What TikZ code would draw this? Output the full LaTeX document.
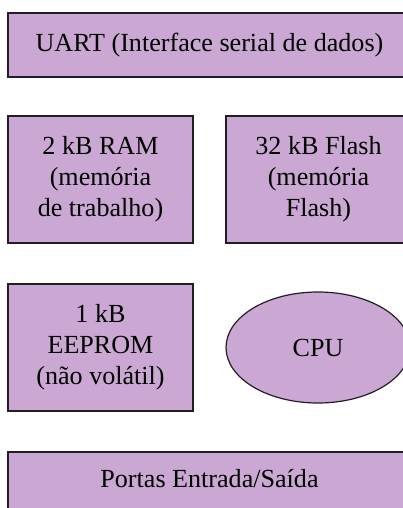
\documentclass[tikz,border=0pt]{standalone}
\usepackage{fontspec}
\setmainfont{Liberation Serif}
\usetikzlibrary{shapes.geometric}

\definecolor{blockfill}{RGB}{202,168,211}
\definecolor{blockline}{RGB}{34,30,36}

\tikzset{
  block/.style={draw=blockline, line width=1.2pt, fill=blockfill,
    rectangle, inner sep=0pt, align=center,
    font=\fontsize{26.1}{30.8}\selectfont},
  wideblock/.style={block, minimum width=403pt},
  memblock/.style={block, minimum width=185pt, minimum height=127pt},
  cpublock/.style={block, ellipse, minimum width=184pt, minimum height=111pt}
}

\begin{document}
\begin{tikzpicture}[x=1pt, y=-1pt]
  \useasboundingbox (0,0) rectangle (403,508);
  \clip (0,0) rectangle (403,508);
  \fill[white] (0,0) rectangle (403,508);

  % serial interface across the top
  \node[wideblock, minimum height=64pt] (uart) at (209.5,45)
    {UART (Interface serial de dados)};

  % memories
  \node[memblock] (ram) at (100.5,179.5)
    {2 kB RAM\\(memória\\de trabalho)};
  \node[memblock] (flash) at (318.5,179.5)
    {32 kB Flash\\(memória\\Flash)};
  \node[memblock] (eeprom) at (100.5,347.5)
    {1 kB\\EEPROM\\(não volátil)};

  % processor
  \node[cpublock] (cpu) at (318,347.5) {CPU};

  % input/output ports along the bottom
  \node[wideblock, minimum height=60pt, text height=15pt, text depth=5pt]
    (io) at (209.5,482) {Portas Entrada/Saída};
\end{tikzpicture}
\end{document}
